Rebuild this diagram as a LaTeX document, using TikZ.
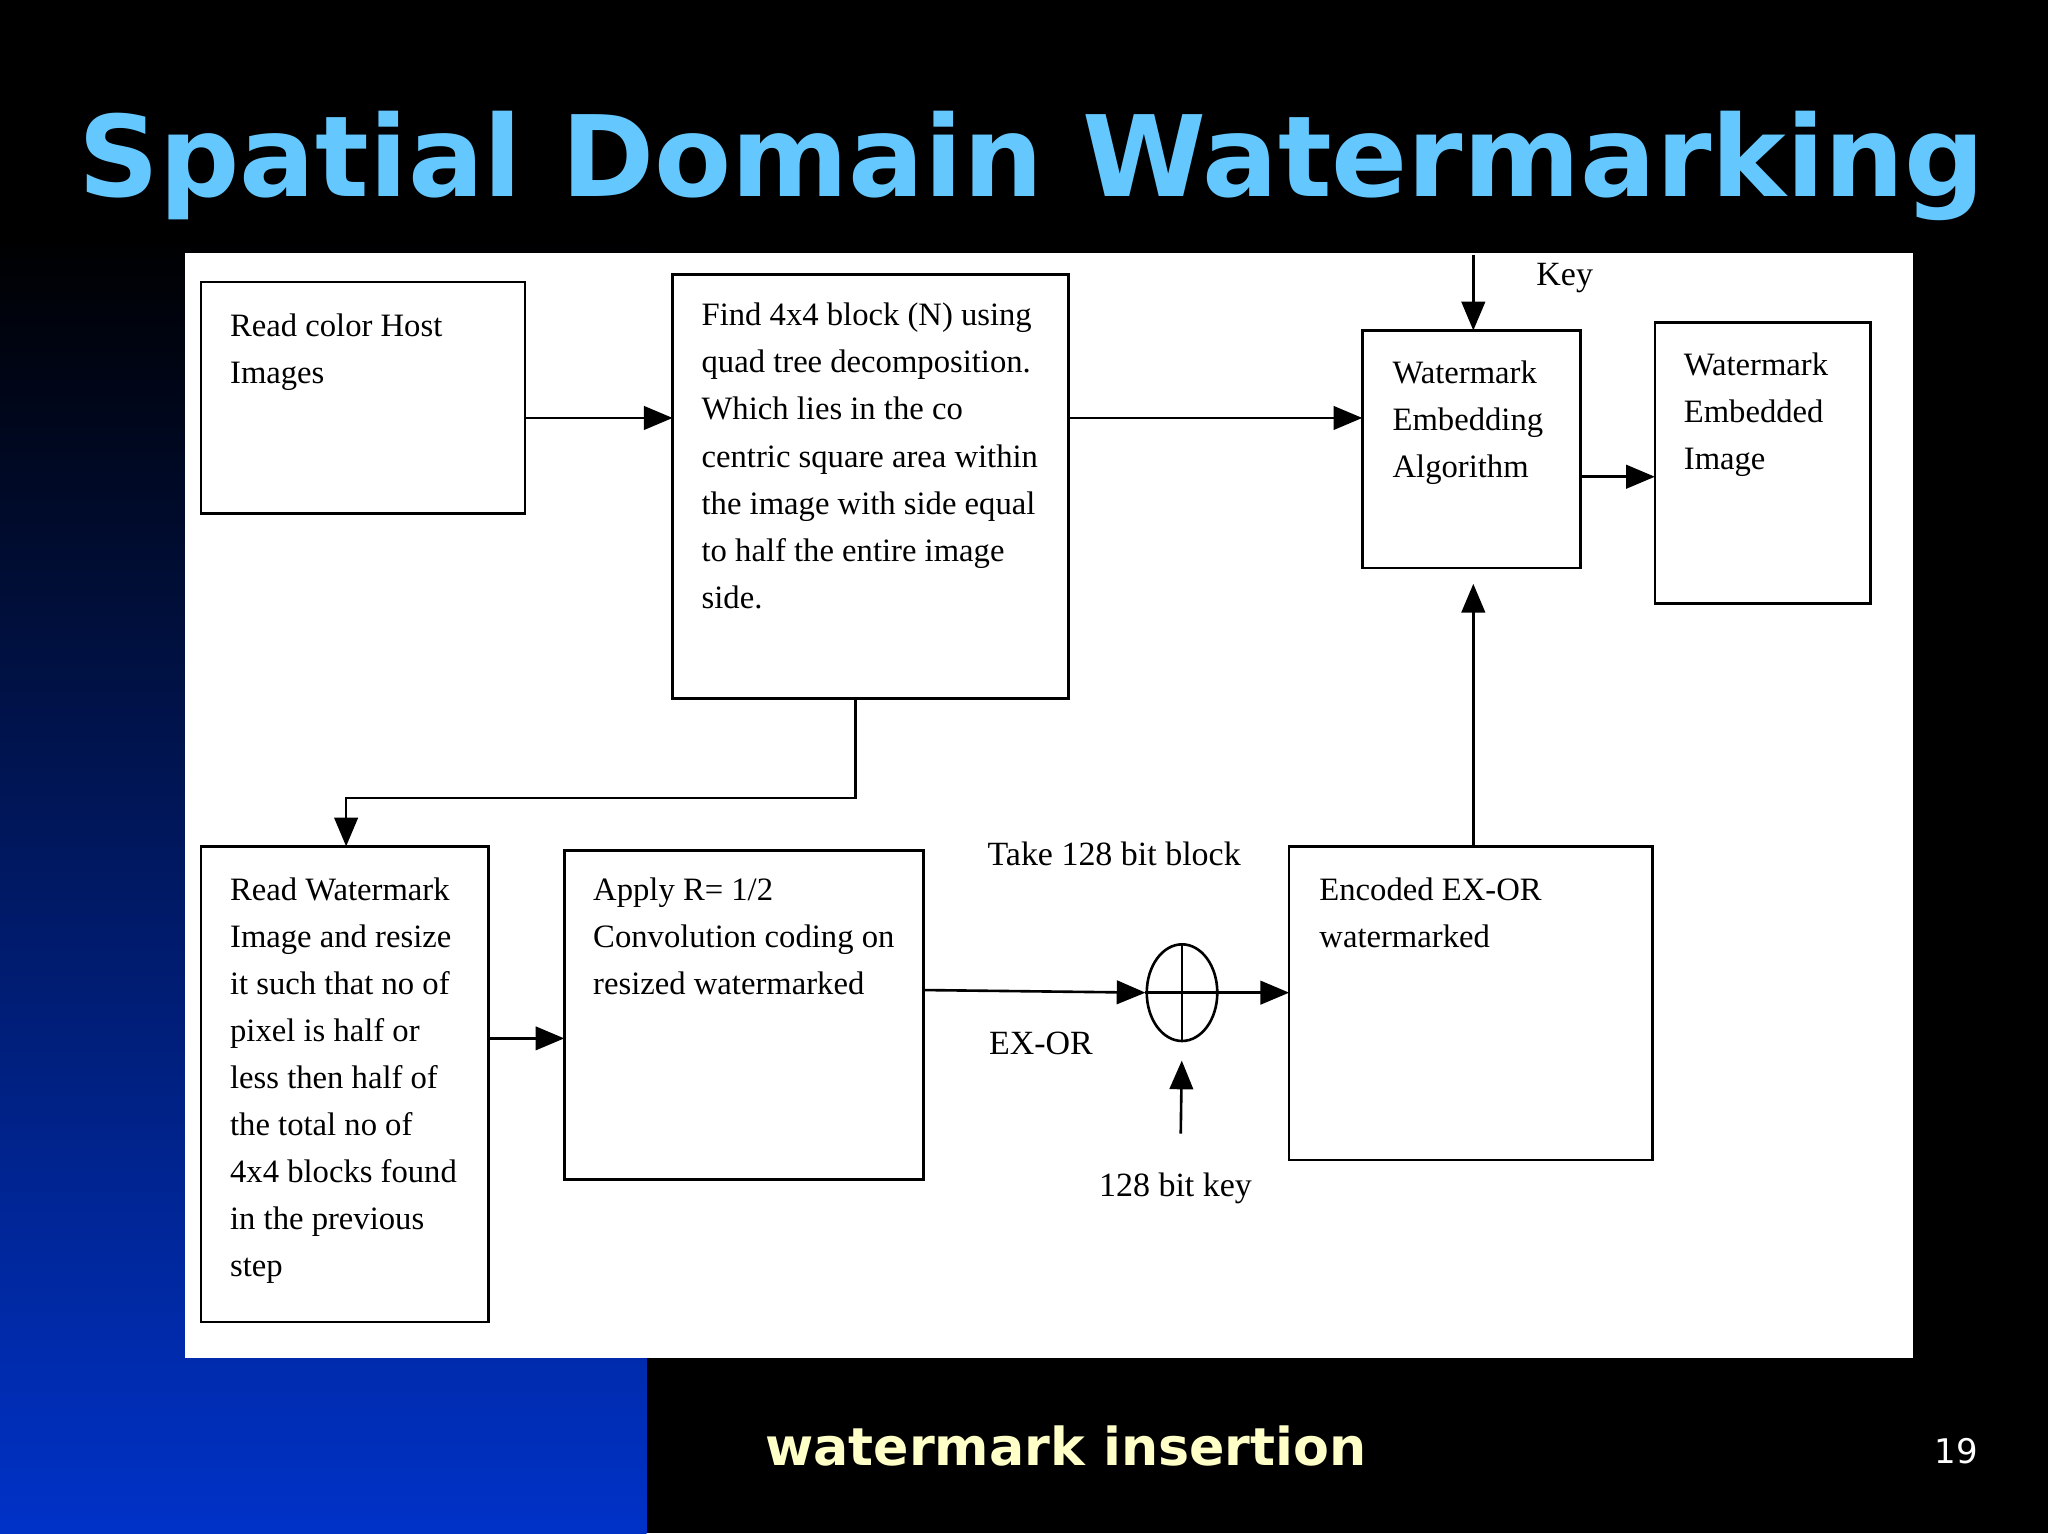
\documentclass[tikz,border=0pt]{standalone}
\usepackage{fontspec}
\setmainfont{Liberation Serif}
\newfontfamily\titlefont{DejaVu Sans}
\usetikzlibrary{arrows.meta,shapes.geometric}
\definecolor{ttl}{RGB}{100,200,255}
\definecolor{foot}{RGB}{255,255,200}
\definecolor{blu}{RGB}{0,50,200}
\tikzset{x=1pt,y=-1pt,
 bx/.style={draw,line width=2pt},
 tx/.style={anchor=north west,align=left,font=\fontsize{25}{36}\selectfont,inner sep=0pt},
 ar/.style={line width=2pt,-{Triangle[length=22pt,width=18pt]}},
 lb/.style={font=\fontsize{26}{30}\selectfont}}
\begin{document}
\begin{tikzpicture}
\useasboundingbox (0,0) rectangle (1568,1174);
\fill[black] (0,0) rectangle (1568,1174);
\shade[top color=black,bottom color=blu] (0,180) rectangle (495,1174);
\fill[white] (142,194) rectangle (1465,1040);
\node[font=\titlefont\bfseries\fontsize{86}{100}\selectfont,text=ttl] (title) at (790,127) {Spatial Domain Watermarking};
% boxes
\draw[bx] (154,216) rectangle (402,393);
\node[tx] (At) at (176,240) {Read color Host\\Images};
\draw[bx] (515,210) rectangle (818,535);
\node[tx] (Bt) at (537,232) {Find 4x4 block (N) using\\quad tree decomposition.\\Which lies in the co\\centric square area within\\the image with side equal\\to half the entire image\\side.};
\draw[bx] (1043,253) rectangle (1210,435);
\node[tx] (Ct) at (1066,276) {Watermark\\Embedding\\Algorithm};
\draw[bx] (1267,247) rectangle (1432,462);
\node[tx] (Dt) at (1289,270) {Watermark\\Embedded\\Image};
\draw[bx] (154,648) rectangle (374,1012);
\node[tx] (Et) at (176,672) {Read Watermark\\Image and resize\\it such that no of\\pixel is half or\\less then half of\\the total no of\\4x4 blocks found\\in the previous\\step};
\draw[bx] (432,651) rectangle (707,903);
\node[tx] (Ft) at (454,672) {Apply R= 1/2\\Convolution coding on\\resized watermarked};
\draw[bx] (987,648) rectangle (1265,888);
\node[tx] (Gt) at (1010,672) {Encoded EX-OR\\watermarked};
\node[draw,line width=2pt,ellipse,minimum width=54pt,minimum height=74pt,inner sep=0pt] (X) at (905,760) {};
\draw[line width=2pt] (X.north) -- (X.south) (X.west) -- (X.east);
% connectors
\coordinate (k0) at (1128,195);
\coordinate (k1) at (904,868);
\draw[ar] (402,320) -- (515,320);
\draw[ar] (818,320) -- (1043,320);
\draw[ar] (k0) -- (1128,253);
\draw[ar] (1210,365) -- (1267,365);
\draw[ar,shorten >=12pt] (1128,648) -- (1128,435);
\draw[ar] (655,535) -- (655,611) -- (265,611) -- (265,648);
\draw[ar] (374,795) -- (432,795);
\draw[ar] (707,758) -- (X.west);
\draw[ar] (X.east) -- (987,760);
\draw[ar,shorten >=14pt] (k1) -- (X.south);
\node[lb] (key) at (1198,213) {Key};
\node[lb] (take) at (853,654) {Take 128 bit block};
\node[lb] (exor) at (797,799) {EX-OR};
\node[lb] (kk) at (900,910) {128 bit key};
\node[font=\titlefont\bfseries\fontsize{40}{44}\selectfont,text=foot] (foot) at (816,1107) {watermark insertion};
\node[font=\titlefont\fontsize{26}{30}\selectfont,text=white] (pg) at (1498,1111) {19};
\end{tikzpicture}
\end{document}
